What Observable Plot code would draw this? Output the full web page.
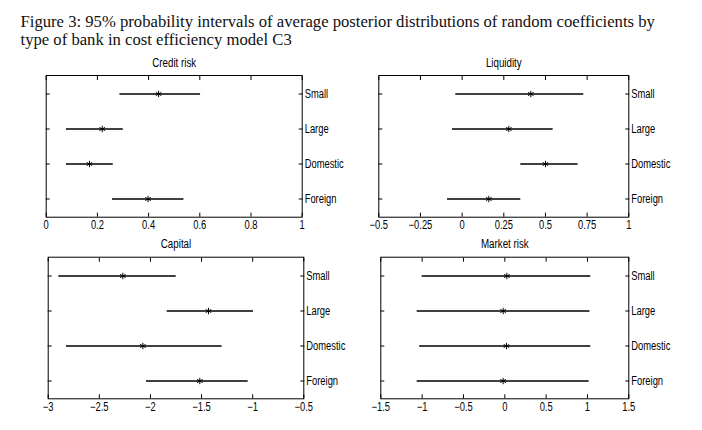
<!DOCTYPE html>
<html><head><meta charset="utf-8">
<script src="https://cdn.jsdelivr.net/npm/d3@7"></script>
<script src="https://cdn.jsdelivr.net/npm/@observablehq/plot@0.6"></script>
<style>
body{margin:0;background:#fff;}
#root{position:relative;width:702px;height:430px;overflow:hidden;background:#fff;}
.ttl{position:absolute;left:20.5px;font-family:"Liberation Serif","DejaVu Serif",serif;font-size:15.5px;line-height:18px;white-space:nowrap;color:#111;}
.panel{position:absolute;}
.panel svg{overflow:visible;}
</style></head><body>
<div id="root">
<div class="ttl" id="t1" style="top:12.8px">Figure 3: 95% probability intervals of average posterior distributions of random coefficients by</div>
<div class="ttl" id="t2" style="top:30.8px">type of bank in cost efficiency model C3</div>
</div>
<script>
const categories = ["Small", "Large", "Domestic", "Foreign"];

const creditLow  = [0.288, 0.079, 0.079, 0.259];
const creditMean = [0.439, 0.219, 0.169, 0.398];
const creditHigh = [0.603, 0.301, 0.262, 0.538];
const creditTicks = [0, 0.2, 0.4, 0.6, 0.8, 1];

const liquidityLow  = [-0.038, -0.058, 0.352, -0.088];
const liquidityMean = [0.412, 0.28, 0.5, 0.16];
const liquidityHigh = [0.73, 0.546, 0.696, 0.352];
const liquidityTicks = [-0.5, -0.25, 0, 0.25, 0.5, 0.75, 1];

const capitalLow  = [-2.896, -1.836, -2.821, -2.038];
const capitalMean = [-2.27, -1.432, -2.074, -1.517];
const capitalHigh = [-1.748, -0.992, -1.299, -1.044];
const capitalTicks = [-3, -2.5, -2, -1.5, -1, -0.5];

const marketLow  = [-1.0, -1.06, -1.03, -1.06];
const marketMean = [0.025, -0.02, 0.02, -0.02];
const marketHigh = [1.04, 1.03, 1.04, 1.02];
const marketTicks = [-1.5, -1, -0.5, 0, 0.5, 1, 1.5];

const FONT = '"Liberation Sans",Arial,Helvetica,sans-serif';
const fmt = d3.format("~g");
const empty = () => "";

function panel(o) {
  const data = categories.map((c, i) => ({cat: c, lo: o.low[i], mean: o.mean[i], hi: o.high[i]}));
  const ticks = o.ticks;
  const chart = Plot.plot({
    width: o.width, height: o.height,
    marginLeft: o.ml, marginRight: o.mr, marginTop: o.mt, marginBottom: o.mb,
    style: {fontFamily: FONT, fontSize: "12px", color: "#000", background: "transparent"},
    x: {domain: [ticks[0], ticks[ticks.length - 1]], label: null},
    y: {type: "band", domain: categories, padding: 0, label: null},
    marks: [
      Plot.frame({stroke: "#000", strokeWidth: 1}),
      Plot.axisX({anchor: "bottom", ticks, tickSize: 4, dy: -4, tickFormat: empty, label: null}),
      Plot.axisX({anchor: "top", ticks, tickSize: 4, dy: 4, tickFormat: empty, label: null}),
      Plot.axisX({anchor: "bottom", ticks, tickSize: 0, tickPadding: 3.5, tickFormat: fmt, label: null}),
      Plot.axisY({anchor: "left", tickSize: 4, dx: 4, tickFormat: empty, label: null}),
      Plot.axisY({anchor: "right", tickSize: 4, dx: -4, tickFormat: empty, label: null}),
      Plot.axisY({anchor: "right", tickSize: 0, tickPadding: 2.5, label: null}),
      Plot.ruleY(data, {y: "cat", x1: "lo", x2: "hi", stroke: "#000", strokeWidth: 1.3}),
      Plot.dot(data, {y: "cat", x: "mean", symbol: "asterisk", r: 3, stroke: "#000", strokeWidth: 1}),
      Plot.text([o.title], {frameAnchor: "top", dy: -13, text: d => d, lineAnchor: "middle", fontSize: 12.5, fill: "#000"})
    ]
  });
  const div = document.createElement("div");
  div.className = "panel";
  div.style.left = o.left + "px";
  div.style.top = o.top + "px";
  div.appendChild(chart);
  document.getElementById("root").appendChild(div);
  // narrow (Helvetica Narrow-like) glyphs, as in the reference
  chart.querySelectorAll("text").forEach(t => {
    const L = t.getComputedTextLength();
    if (L > 0) {
      t.setAttribute("textLength", (L * 0.78).toFixed(2));
      t.setAttribute("lengthAdjust", "spacingAndGlyphs");
    }
  });
}

panel({title: "Credit risk", low: creditLow, mean: creditMean, high: creditHigh, ticks: creditTicks,
  left: 0, top: 50, width: 351, height: 190, ml: 45.7, mr: 49.3, mt: 25, mb: 23.3});
panel({title: "Liquidity", low: liquidityLow, mean: liquidityMean, high: liquidityHigh, ticks: liquidityTicks,
  left: 351, top: 50, width: 351, height: 190, ml: 27.3, mr: 73.7, mt: 25, mb: 23.3});
panel({title: "Capital", low: capitalLow, mean: capitalMean, high: capitalHigh, ticks: capitalTicks,
  left: 0, top: 235, width: 351, height: 195, ml: 47.7, mr: 47.7, mt: 21.7, mb: 31.7});
panel({title: "Market risk", low: marketLow, mean: marketMean, high: marketHigh, ticks: marketTicks,
  left: 351, top: 235, width: 351, height: 195, ml: 29.3, mr: 73.7, mt: 21.7, mb: 31.7});

// fit the title's first line to the reference width
const t1 = document.getElementById("t1"), t2 = document.getElementById("t2");
const w = t1.getBoundingClientRect().width;
const fs = 15.5 * 635 / w;
t1.style.fontSize = fs + "px";
t2.style.fontSize = fs + "px";
</script>
</body></html>
